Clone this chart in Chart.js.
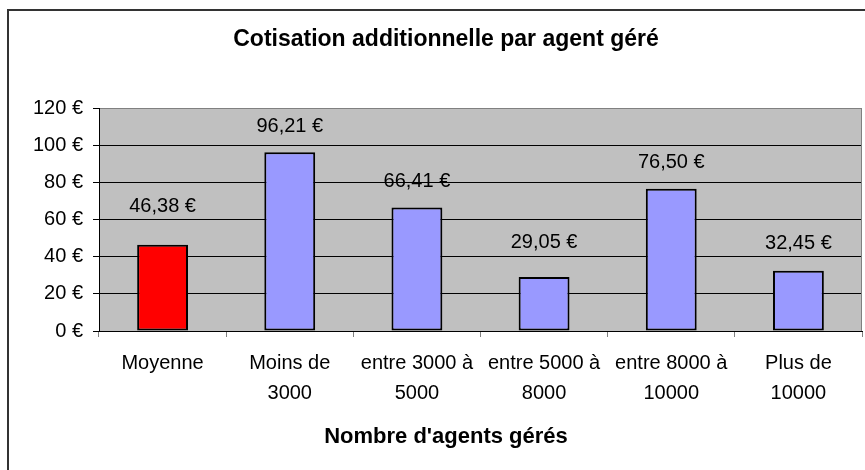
<!DOCTYPE html>
<html>
<head>
<meta charset="utf-8">
<script src="https://cdn.jsdelivr.net/npm/chart.js@4"></script>
<style>
    html, body { margin: 0; padding: 0; background: #fff; overflow: hidden; }
    #frame { position: absolute; left: 7px; top: 9px; width: 1000px; height: 1000px; border: 2px solid #333; }
    #chart { position: absolute; left: 0; top: 0; }
</style>
</head>
<body>
<div id="frame"></div>
<canvas id="chart" width="865" height="470"></canvas>
<script>
// Chart data
const categories = [['Moyenne'], ['Moins de', '3000'], ['entre 3000 à', '5000'], ['entre 5000 à', '8000'], ['entre 8000 à', '10000'], ['Plus de', '10000']];
const values = [46.38, 96.21, 66.41, 29.05, 76.50, 32.45];
const barColors = ['#FF0000', '#9999FF', '#9999FF', '#9999FF', '#9999FF', '#9999FF'];
const yTicks = [0, 20, 40, 60, 80, 100, 120];

// distance (px) from bar top to value label centre, as placed in the original
const labelGaps = [38, 26, 26, 35, 26, 27];

const FONT = "'Liberation Sans', Arial, sans-serif";

function euro(v) {
    return v.toFixed(2).replace('.', ',') + ' €';
}

// Gray plot background + gray right edge
const plotArea = {
    id: 'plotArea',
    beforeDraw(chart) {
        const a = chart.chartArea;
        const ctx = chart.ctx;
        ctx.save();
        ctx.fillStyle = '#C0C0C0';
        ctx.fillRect(a.left, a.top, a.right - a.left, a.bottom - a.top);
        ctx.restore();
    },
    afterDraw(chart) {
        const a = chart.chartArea;
        const ctx = chart.ctx;
        ctx.save();
        ctx.strokeStyle = '#808080';
        ctx.lineWidth = 1;
        ctx.beginPath();
        ctx.moveTo(a.right - 0.5, a.top);
        ctx.lineTo(a.right - 0.5, a.bottom);
        ctx.stroke();
        ctx.restore();
    }
};

// Value labels above each bar
const valueLabels = {
    id: 'valueLabels',
    afterDatasetsDraw(chart) {
        const ctx = chart.ctx;
        const meta = chart.getDatasetMeta(0);
        ctx.save();
        ctx.font = '20px ' + FONT;
        ctx.fillStyle = '#000';
        ctx.textAlign = 'center';
        ctx.textBaseline = 'middle';
        meta.data.forEach((bar, i) => {
            ctx.fillText(euro(values[i]), bar.x, bar.y - labelGaps[i]);
        });
        ctx.restore();
    }
};

new Chart(document.getElementById('chart').getContext('2d'), {
    type: 'bar',
    data: {
        labels: categories,
        datasets: [{
            data: values,
            backgroundColor: barColors,
            borderColor: '#000',
            borderWidth: 2,
            borderSkipped: false,
            barPercentage: 0.4,
            categoryPercentage: 1
        }]
    },
    options: {
        responsive: false,
        animation: false,
        layout: { padding: { left: 30, right: 3, top: 0, bottom: 0 } },
        plugins: {
            legend: { display: false },
            tooltip: { enabled: false },
            title: {
                display: true,
                text: 'Cotisation additionnelle par agent géré',
                color: '#000',
                font: { family: FONT, size: 23, weight: 'bold', lineHeight: 1.2 },
                padding: { top: 26, bottom: 54.4 }
            },
            subtitle: {
                display: true,
                position: 'bottom',
                text: "Nombre d'agents gérés",
                color: '#000',
                font: { family: FONT, size: 22, weight: 'bold', lineHeight: 1.2 },
                padding: { top: 10, bottom: 19.8 }
            }
        },
        scales: {
            x: {
                afterFit: (scale) => { scale.height = 82.8; },
                grid: {
                    offset: true,
                    drawOnChartArea: false,
                    drawTicks: true,
                    tickLength: 6,
                    tickColor: '#808080'
                },
                border: { color: '#000', width: 1 },
                ticks: {
                    color: '#000',
                    autoSkip: false,
                    maxRotation: 0,
                    minRotation: 0,
                    padding: 11,
                    font: { family: FONT, size: 20, lineHeight: 1.5 }
                }
            },
            y: {
                min: 0,
                max: 120,
                afterFit: (scale) => { scale.width = 69; },
                afterBuildTicks: (scale) => { scale.ticks = yTicks.map(v => ({ value: v })); },
                grid: {
                    color: (c) => (c.tick && c.tick.value === 120 ? '#808080' : '#000'),
                    tickColor: '#000',
                    tickLength: 6,
                    lineWidth: 1
                },
                border: { color: '#000', width: 1 },
                ticks: {
                    color: '#000',
                    padding: 10,
                    font: { family: FONT, size: 20 },
                    callback: (v) => v + ' €'
                }
            }
        }
    },
    plugins: [plotArea, valueLabels]
});
</script>
</body>
</html>
